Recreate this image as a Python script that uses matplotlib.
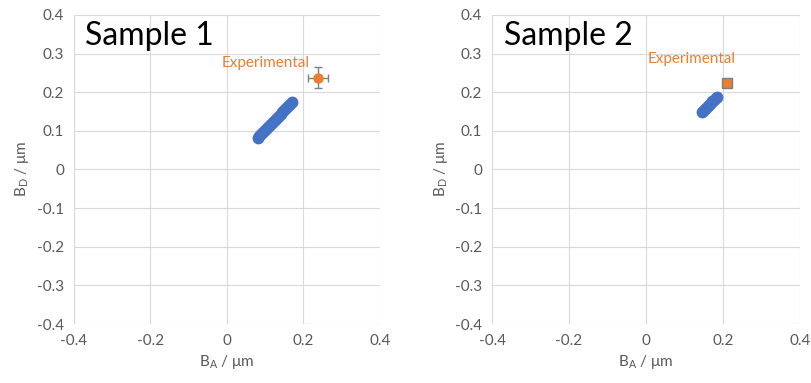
import matplotlib.pyplot as plt

plt.rcParams['font.family'] = ['Lato', 'DejaVu Sans']

# Sample 1 simulated points and experimental value
s1_x = [0.080, 0.085, 0.090, 0.095, 0.100, 0.105, 0.110, 0.115, 0.120, 0.125,
        0.130, 0.135, 0.140, 0.145, 0.150, 0.155, 0.160, 0.165, 0.170]
s1_y = [0.081, 0.086, 0.091, 0.097, 0.102, 0.107, 0.112, 0.117, 0.123, 0.128,
        0.133, 0.138, 0.144, 0.149, 0.154, 0.159, 0.165, 0.170, 0.175]
s1_exp = (0.237, 0.238)
s1_err = (0.026, 0.027)

# Sample 2 simulated points and experimental value
s2_x = [0.145, 0.149, 0.153, 0.157, 0.161, 0.165, 0.169, 0.173, 0.177, 0.181, 0.185]
s2_y = [0.148, 0.152, 0.156, 0.160, 0.164, 0.168, 0.172, 0.176, 0.180, 0.184, 0.188]
s2_exp = (0.212, 0.223)
s2_err = (0.006, 0.006)

yticks = [-0.4, -0.3, -0.2, -0.1, 0, 0.1, 0.2, 0.3, 0.4]
xticks = [-0.4, -0.2, 0, 0.2, 0.4]

fig = plt.figure(figsize=(8.12, 3.83), dpi=100)
ax1 = fig.add_axes([0.091, 0.154, 0.377, 0.807])
ax2 = fig.add_axes([0.606, 0.154, 0.379, 0.807])

grid_c = '#d9d9d9'
text_c = '#595959'
blue = '#4472c4'
orange = '#ed7d31'

panels = [
    (ax1, s1_x, s1_y, s1_exp, s1_err, 'Sample 1', 'o', (0.10, 0.275)),
    (ax2, s2_x, s2_y, s2_exp, s2_err, 'Sample 2', 's', (0.12, 0.285)),
]

for ax, xs, ys, exp, err, title, mk, txt_pos in panels:
    ax.set_xlim(-0.4, 0.4)
    ax.set_ylim(-0.4, 0.4)
    ax.set_xticks(xticks)
    ax.set_yticks(yticks)
    ax.set_xticklabels(['-0.4', '-0.2', '0', '0.2', '0.4'])
    ax.set_yticklabels(['-0.4', '-0.3', '-0.2', '-0.1', '0', '0.1', '0.2', '0.3', '0.4'])
    ax.grid(True, color=grid_c, lw=0.8)
    ax.tick_params(length=0, labelsize=11, colors=text_c, pad=7)
    for s in ax.spines.values():
        s.set_visible(False)
    ax.axvline(-0.4, color=grid_c, lw=0.8)
    ax.axhline(-0.4, color=grid_c, lw=0.8)
    ax.set_axisbelow(True)

    ax.plot(xs, ys, 'o', color=blue, ms=7.5, mec=blue)
    ax.errorbar(exp[0], exp[1], xerr=err[0], yerr=err[1], fmt=mk, color=orange,
                mec='#7f7f7f' if mk == 's' else orange, ms=6.5,
                ecolor='#7f7f7f', elinewidth=1, capsize=3)
    ax.text(txt_pos[0], txt_pos[1], 'Experimental', color=orange, fontsize=11,
            ha='center', va='center')
    ax.text(-0.37, 0.345, title, fontsize=23, ha='left', va='center', color='black')

    ax.set_xlabel('B$_\\mathregular{A}$ / μm', fontsize=11, color=text_c, labelpad=4)
    ax.set_ylabel('B$_\\mathregular{D}$ / μm', fontsize=11, color=text_c, labelpad=4)

fig.savefig('out.png', dpi=100)
